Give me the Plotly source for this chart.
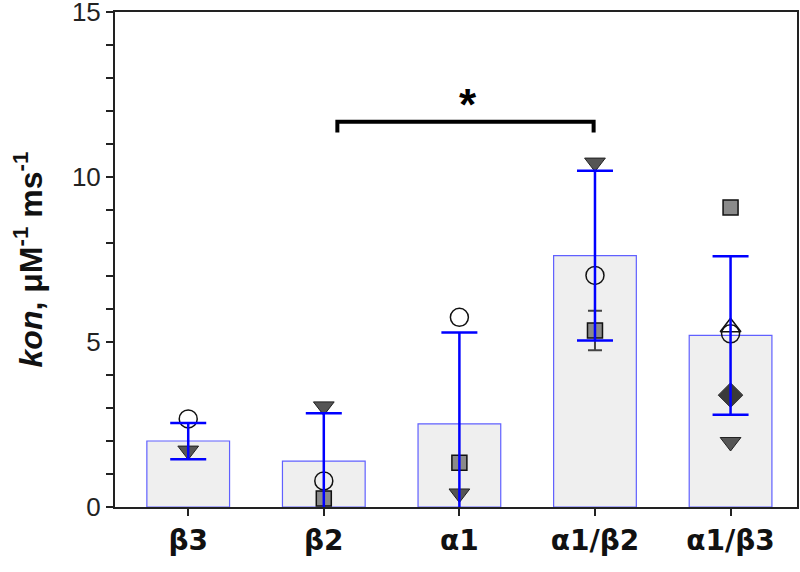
import plotly.graph_objects as go

categories = ["β3", "β2", "α1", "α1/β2", "α1/β3"]
bar_means = [2.0, 1.39, 2.52, 7.62, 5.2]
bar_sd = [0.55, 1.45, 2.77, 2.57, 2.4]

circle_vals = [2.67, 0.79, 5.75, 7.02, 5.25]
tri_down_vals = [1.71, 3.05, 0.41, 10.44, 1.97]
square_vals = [None, 0.26, 1.34, 5.35, 9.08]
diamond_vals = [None, None, None, None, 3.39]
tri_up_vals = [None, None, None, None, 5.45]

point_err_cat = ["α1/β2"]
point_err_val = [5.35]
point_err_sd = [0.6]

bracket_x = [1.1, 2.99]
bracket_y = [11.35, 11.68]
star_pos = (2.06, 12.2)

fig = go.Figure()

fig.add_trace(go.Bar(
    x=categories, y=bar_means, width=0.61,
    marker=dict(color="#efefef", line=dict(color="#6060ff", width=1.2)),
    showlegend=False,
))

# individual point error bar (under the markers)
fig.add_trace(go.Scatter(
    x=point_err_cat, y=point_err_val, mode="markers",
    marker=dict(size=1, color="rgba(0,0,0,0)"),
    error_y=dict(type="data", array=point_err_sd, color="#444444", thickness=2, width=7),
    showlegend=False, hoverinfo="skip",
))

fig.add_trace(go.Scatter(
    x=categories, y=circle_vals, mode="markers",
    marker=dict(symbol="circle-open", size=18, color="#111111", line=dict(width=1.5)),
    showlegend=False,
))
fig.add_trace(go.Scatter(
    x=categories, y=tri_down_vals, mode="markers",
    marker=dict(symbol="triangle-down", size=18, color="#555555", line=dict(color="#222222", width=1)),
    showlegend=False,
))
fig.add_trace(go.Scatter(
    x=categories, y=square_vals, mode="markers",
    marker=dict(symbol="square", size=15, color="#8a8a8a", line=dict(color="#111111", width=1.5)),
    showlegend=False,
))
fig.add_trace(go.Scatter(
    x=categories, y=diamond_vals, mode="markers",
    marker=dict(symbol="diamond", size=19, color="#3a3a3a", line=dict(color="#3a3a3a", width=1)),
    showlegend=False,
))
fig.add_trace(go.Scatter(
    x=categories, y=tri_up_vals, mode="markers",
    marker=dict(symbol="triangle-up-open", size=18, color="#111111", line=dict(width=1.5)),
    showlegend=False,
))

# SD error bars on top
fig.add_trace(go.Scatter(
    x=categories, y=bar_means, mode="markers",
    marker=dict(size=1, color="rgba(0,0,0,0)"),
    error_y=dict(type="data", array=bar_sd, color="#0000ff", thickness=2.5, width=18),
    showlegend=False, hoverinfo="skip",
))

# significance bracket
fig.add_shape(
    type="path",
    path=f"M {bracket_x[0]},{bracket_y[0]} L {bracket_x[0]},{bracket_y[1]} L {bracket_x[1]},{bracket_y[1]} L {bracket_x[1]},{bracket_y[0]}",
    xref="x", yref="y", line=dict(color="#000000", width=4),
)
fig.add_annotation(
    x=star_pos[0], y=star_pos[1], xref="x", yref="y", text="<b>*</b>",
    showarrow=False, font=dict(family="Liberation Sans", size=44, color="#000000"),
)

fig.update_layout(
    width=800, height=572,
    margin=dict(l=115, r=3, t=12, b=65, autoexpand=False),
    plot_bgcolor="white", paper_bgcolor="white",
    showlegend=False,
)
fig.update_xaxes(
    type="category", range=[-0.54, 4.49], automargin=False,
    showline=True, linecolor="#222222", linewidth=2, mirror=True,
    ticks="outside", ticklen=7, tickcolor="#222222", tickwidth=1.5,
    tickfont=dict(family="DejaVu Sans", size=28, color="#111111", weight="bold"),
    showgrid=False, zeroline=False,
)
fig.update_yaxes(
    range=[0, 15.005], tickvals=[0, 5, 10, 15], automargin=False,
    ticklabeloverflow="allow",
    showline=True, linecolor="#222222", linewidth=2, mirror=True,
    ticks="outside", ticklen=7, tickcolor="#222222", tickwidth=1.5,
    minor=dict(dtick=1, ticks="outside", ticklen=7, tickcolor="#222222", tickwidth=1.5, showgrid=False),
    tickfont=dict(family="Liberation Sans", size=26, color="#222222"),
    showgrid=False, zeroline=False,
    title=dict(text="<b><i>kon</i>, μM<sup>-1</sup> ms<sup>-1</sup></b>",
               font=dict(family="Liberation Sans", size=32, color="#111111"), standoff=20),
)

fig.write_html(
    "out.html",
    config={"displayModeBar": False},
    post_script="document.body.style.margin='0';document.body.style.overflow='hidden';",
)
